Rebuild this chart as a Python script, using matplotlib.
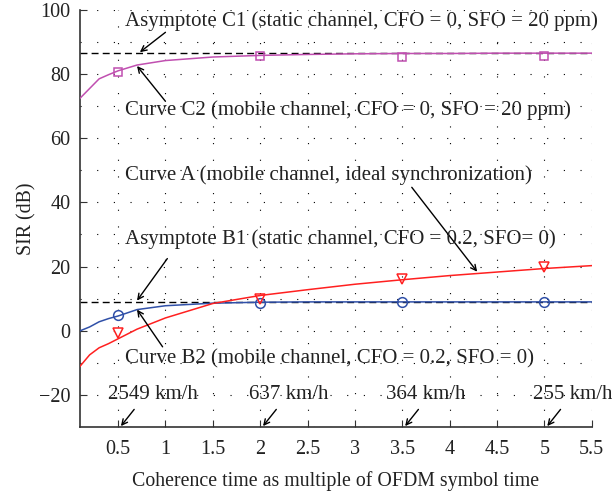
import numpy as np
import matplotlib
matplotlib.use("Agg")
import matplotlib.pyplot as plt
from matplotlib.ticker import MultipleLocator

# coherence time (multiples of OFDM symbol time)
t = [0.1, 0.2, 0.3, 0.4, 0.5, 0.7, 1.0, 1.5, 2.0, 2.5, 3.0, 3.5, 4.0, 4.5, 5.0, 5.5]
curve_c2 = [72.5, 75.5, 78.5, 79.8, 81.0, 82.8, 84.2, 85.3, 85.8, 86.1, 86.3, 86.4, 86.4, 86.5, 86.5, 86.5]
curve_b2 = [0.0, 1.2, 2.8, 3.8, 4.6, 6.6, 7.8, 8.6, 8.9, 9.0, 9.0, 9.0, 9.0, 9.0, 9.0, 9.0]
curve_a = [-11.0, -7.5, -5.3, -4.0, -2.5, 0.5, 4.0, 8.5, 11.0, 12.8, 14.5, 15.9, 17.2, 18.3, 19.4, 20.3]
asym_c1 = 86.5
asym_b1 = 9.0

# simulated points
t_sim = [0.5, 2.0, 3.5, 5.0]
sim_c2 = [80.7, 85.7, 85.2, 85.6]
sim_b2 = [5.0, 8.8, 9.0, 9.0]
sim_a = [-0.8, 10.0, 16.2, 20.0]

speeds = ["2549 km/h", "637 km/h", "364 km/h", "255 km/h"]

magenta = "#c04fb0"
blue = "#3050a8"
red = "#ff2020"

plt.rcParams["font.family"] = ["Liberation Serif", "DejaVu Serif"]
fig = plt.figure(figsize=(6.12, 4.92), dpi=100)
ax = fig.add_axes([0.131, 0.132, 0.836, 0.848])

ax.axhline(asym_c1, color="k", ls=(0, (5, 3)), lw=1.0, zorder=2)
ax.axhline(asym_b1, color="k", ls=(0, (5, 3)), lw=1.0, zorder=2)
ax.plot(t, curve_c2, color=magenta, lw=1.1, zorder=3)
ax.plot(t, curve_b2, color=blue, lw=1.1, zorder=3)
ax.plot(t, curve_a, color=red, lw=1.1, zorder=3)
ax.plot(t_sim, sim_c2, ls="none", marker="s", ms=6, mfc="none", mec=magenta, mew=1.1, zorder=4)
ax.plot(t_sim, sim_b2, ls="none", marker="o", ms=7, mfc="none", mec=blue, mew=1.1, zorder=4)
ax.plot(t_sim, sim_a, ls="none", marker="v", ms=7, mfc="none", mec=red, mew=1.1, zorder=4)

ax.set_xlim(0.1, 5.5)
ax.set_ylim(-30, 100)
ax.yaxis.set_major_locator(MultipleLocator(20))
ax.yaxis.set_minor_locator(MultipleLocator(10))
ax.set_xticks(np.arange(0.5, 5.51, 0.5))
ax.set_xticklabels(["0.5", "1", "1.5", "2", "2.5", "3", "3.5", "4", "4.5", "5", "5.5"])
ax.grid(True, which="both", color="k", ls=(0, (1, 14)), lw=0.8)
ax.tick_params(which="both", direction="in", labelsize=14.5, color="#333333", labelcolor="#222222")
ax.tick_params(axis="x", pad=9)
ax.tick_params(axis="y", pad=7)
ax.tick_params(which="major", length=5)
ax.tick_params(which="minor", length=0)
for s in ["top", "right"]:
    ax.spines[s].set_visible(False)
for s in ["left", "bottom"]:
    ax.spines[s].set_color("#333333")
    ax.spines[s].set_linewidth(1.2)

ax.set_xlabel("Coherence time as multiple of OFDM symbol time", fontsize=14.3, color="#222222", labelpad=9)
ax.set_ylabel("SIR (dB)", fontsize=14.3, color="#222222", labelpad=2)

arrow = dict(arrowstyle="->", color="k", lw=1.0, shrinkA=0, shrinkB=0)
fs = 15
tc = "#222222"
x_txt = 0.57
ax.text(x_txt, 96.5, "Asymptote C1 (static channel, CFO = 0, SFO = 20 ppm)", fontsize=fs, color=tc, va="center")
ax.annotate("", xy=(0.73, asym_c1 + 0.3), xytext=(1.0, 93), arrowprops=arrow)
ax.text(x_txt, 68.7, "Curve C2 (mobile channel, CFO = 0, SFO = 20 ppm)", fontsize=fs, color=tc, va="center")
ax.annotate("", xy=(0.70, 82.5), xytext=(1.0, 71.5), arrowprops=arrow)
ax.text(x_txt, 48.4, "Curve A (mobile channel, ideal synchronization)", fontsize=fs, color=tc, va="center")
ax.annotate("", xy=(4.29, 18.4), xytext=(3.6, 44.7), arrowprops=arrow)
ax.text(x_txt, 28.7, "Asymptote B1 (static channel, CFO = 0.2, SFO= 0)", fontsize=fs, color=tc, va="center")
ax.annotate("", xy=(0.70, asym_b1 + 0.4), xytext=(1.02, 22.5), arrowprops=arrow)
ax.text(x_txt, -8.7, "Curve B2 (mobile channel, CFO = 0.2, SFO = 0)", fontsize=fs, color=tc, va="center")
ax.annotate("", xy=(0.70, 6.6), xytext=(0.97, -5), arrowprops=arrow)

label_x = [0.87, 2.3, 3.75, 5.3]
for x0, x_lab, s in zip(t_sim, label_x, speeds):
    ax.text(x_lab, -20, s, fontsize=fs, color=tc, ha="center", va="center", clip_on=False)
    ax.annotate("", xy=(x0 + 0.03, -29.7), xytext=(x0 + 0.17, -24.5), arrowprops=arrow,
                annotation_clip=False)

fig.savefig("out.png", dpi=100)
